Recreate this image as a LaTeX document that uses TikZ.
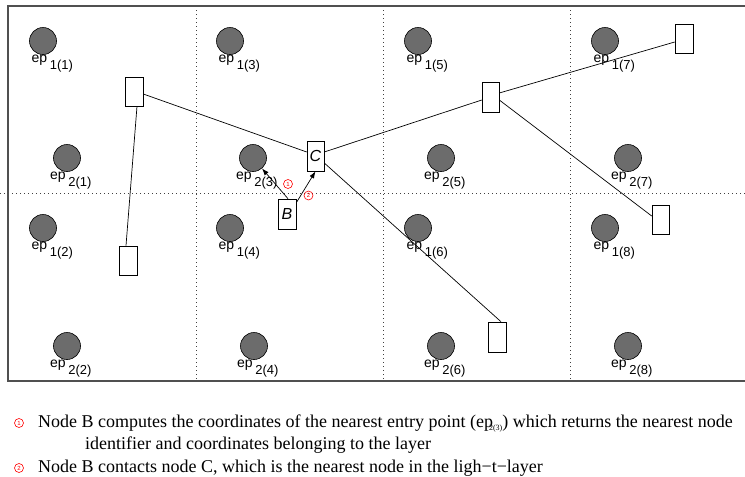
\documentclass[tikz,border=0pt]{standalone}
\usepackage{fontspec}
\setmainfont{Liberation Serif}
\setsansfont{Liberation Sans}
\usetikzlibrary{arrows.meta}
\definecolor{epgray}{RGB}{108,108,108}
\definecolor{framegray}{RGB}{80,80,80}
\begin{document}
\begin{tikzpicture}[x=1pt,y=-1pt,
  epc/.style={circle,draw=black,fill=epgray,minimum size=27pt,inner sep=0pt,line width=0.6pt},
  lbl/.style={anchor=base west,inner sep=0pt,font=\sffamily\fontsize{14}{14}\selectfont},
  boxn/.style={draw=black,fill=white,minimum width=18pt,minimum height=29pt,inner sep=0pt,line width=0.6pt,font=\sffamily\itshape\fontsize{16}{16}\selectfont},
  link/.style={line width=0.7pt},
  gridl/.style={black!75,line width=0.8pt,dash pattern=on 1pt off 3pt},
  num/.style={circle,draw=red,text=red,line width=0.6pt,inner sep=0pt,minimum size=9pt,font=\sffamily\fontsize{6}{6}\selectfont},
  arr/.style={-{Latex[length=7pt,width=5pt]},line width=0.7pt},
  txt/.style={anchor=base west,inner sep=0pt,font=\fontsize{18}{18}\selectfont}
]
\useasboundingbox (0,0) rectangle (745,477);
% grid
\coordinate (g1t) at (196,6);   \coordinate (g1b) at (196,381);
\coordinate (g2t) at (383,6);   \coordinate (g2b) at (383,381);
\coordinate (g3t) at (570,6);   \coordinate (g3b) at (570,381);
\coordinate (hl) at (0,193);    \coordinate (hr) at (745,193);
\draw[gridl] (g1t) -- (g1b);
\draw[gridl] (g2t) -- (g2b);
\draw[gridl] (g3t) -- (g3b);
\draw[gridl] (hl) -- (hr);
% frame
\coordinate (f1) at (745,6); \coordinate (f2) at (8,6);
\coordinate (f3) at (8,381); \coordinate (f4) at (745,381);
\draw[framegray,line width=1.3pt] (f1) -- (f2) -- (f3) -- (f4);
% entry points
\foreach \nm/\cx/\cy/\r/\c/\dx in {
  a11/43/41/1/1/11.5, a21/67/158/2/1/17, a12/43/228/1/2/11.5, a22/67/346/2/2/17,
  a13/230/41/1/3/11.5, a23/253/158/2/3/17, a14/230/228/1/4/11.5, a24/254/346/2/4/17,
  a15/418/41/1/5/11.5, a25/441/158/2/5/17, a16/418/228/1/6/11.5, a26/441/346/2/6/17,
  a17/605/41/1/7/11.5, a27/628/158/2/7/17, a18/605/228/1/8/11.5, a28/628/346/2/8/17}{
  \node[epc] (\nm) at (\cx,\cy) {};
  \node[lbl] (l\nm) at (\cx-\dx,\cy+21) {ep\hspace{2.5pt}\raisebox{-7.5pt}{\fontsize{13}{13}\selectfont\r(\c)}};
}
% boxes
\node[boxn] (R1) at (134,91.5) {};
\node[boxn] (R2) at (128,260.5) {};
\node[boxn,minimum width=17pt,minimum height=30pt] (C) at (315.5,156) {C};
\node[boxn,minimum height=30pt] (B) at (287,214) {B};
\node[boxn,minimum width=17pt,minimum height=30pt] (R5) at (490.5,97) {};
\node[boxn] (R7) at (684,38.5) {};
\node[boxn,minimum width=17pt] (R8) at (660.5,219.5) {};
\node[boxn,minimum height=30pt] (R6) at (497,337) {};
% links
\draw[link] ([xshift=3pt]R1.south) -- ([xshift=-2pt]R2.north);
\draw[link] ([yshift=-2.5pt]R1.east) -- ([yshift=4pt]C.west);
\draw[link] ([yshift=4pt]C.east) -- ([yshift=-3pt]R5.west);
\draw[link] ([yshift=4pt]R5.east) -- ([yshift=-3.5pt]R7.west);
\draw[link] ([yshift=-3pt]R5.east) -- ([yshift=3.5pt]R8.west);
\draw[link] ([yshift=-7pt]C.east) -- ([xshift=4pt]R6.north);
% arrows
\draw[arr] ([xshift=1pt]B.north) -- (a23);
\draw[arr] ([yshift=-4pt]B.north east) -- (C.south);
\node[num] (n1) at (288,184) {1};
\node[num] (n2) at (308.5,195.5) {2};
% caption text
\node[num] (m1) at (19,423) {1};
\node[txt] (t1) at (38,427) {Node B computes the coordinates of the nearest entry point (ep\kern-4pt\raisebox{-3pt}{\fontsize{8}{8}\selectfont 2(3)}) which returns the nearest node};
\node[txt] (t2) at (85,449) {identifier and coordinates belonging to the layer};
\node[num] (m2) at (19,468) {2};
\node[txt] (t3) at (38,472) {Node B contacts node C, which is the nearest node in the ligh−t−layer};
\end{tikzpicture}
\end{document}
